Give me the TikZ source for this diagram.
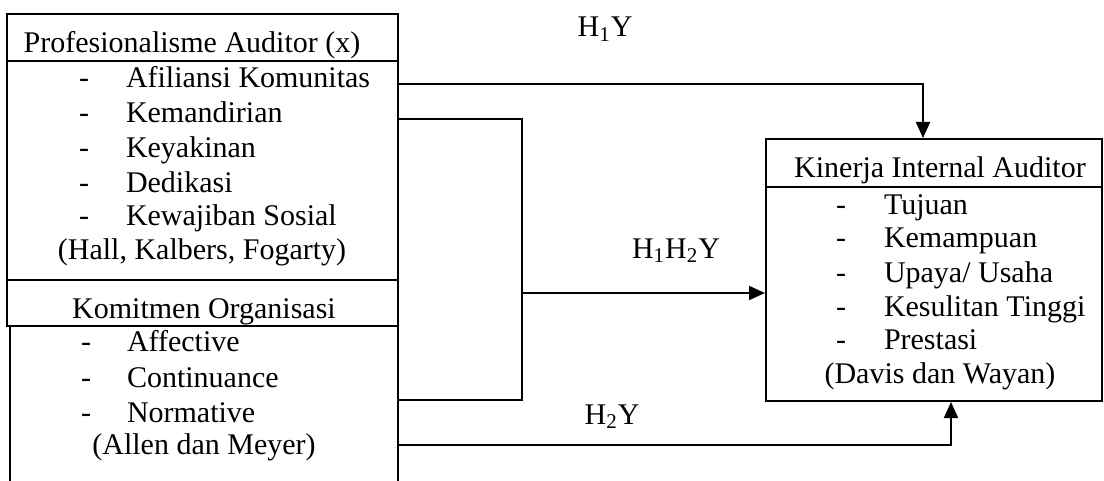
\documentclass[tikz,border=0pt]{standalone}
\usepackage{fontspec}
\setmainfont{Liberation Serif}
\usetikzlibrary{arrows.meta,fit}
\begin{document}
\begin{tikzpicture}[x=0.5pt,y=-0.5pt, line width=1pt,
  font=\fontsize{15}{17}\selectfont,
  box/.style={draw, inner sep=0pt, line width=1pt},
  txt/.style={inner sep=0pt, anchor=base west},
  ctr/.style={inner sep=0pt, anchor=base},
  arr/.style={-{Triangle[length=8pt,width=7pt]}}]
\useasboundingbox (0,0) rectangle (1104,481);
\clip (0,0) rectangle (1104,481);
% box corners
\coordinate (h1a) at (7,14);   \coordinate (h1b) at (398,61);
\coordinate (b1a) at (7,61);   \coordinate (b1b) at (398,280);
\coordinate (h2a) at (7,280);  \coordinate (h2b) at (398,326);
\coordinate (b2a) at (10,326); \coordinate (b2b) at (398,495);
\coordinate (h3a) at (766,139); \coordinate (h3b) at (1102,187);
\coordinate (b3a) at (766,187); \coordinate (b3b) at (1102,401);
\node[box, fit=(h1a)(h1b)] (h1) {};
\node[box, fit=(b1a)(b1b)] (b1) {};
\node[box, fit=(h2a)(h2b)] (h2) {};
\node[box, fit=(b2a)(b2b)] (b2) {};
\node[box, fit=(h3a)(h3b)] (h3) {};
\node[box, fit=(b3a)(b3b)] (b3) {};
% texts box 1
\node[ctr] (t1) at (192,53) {Profesionalisme Auditor (x)};
\foreach \y/\t [count=\i] in {88/{Afiliansi Komunitas},123/{Kemandirian},158/{Keyakinan},192/{Dedikasi},226/{Kewajiban Sosial}}{
  \node[txt] (d1\i) at (78,\y) {-};
  \node[txt] (i1\i) at (125,\y) {\t};
}
\node[ctr] (r1) at (202,259) {(Hall, Kalbers, Fogarty)};
% texts box 2
\node[ctr] (t2) at (204,318) {Komitmen Organisasi};
\foreach \y/\t [count=\i] in {351/{Affective},387/{Continuance},422/{Normative}}{
  \node[txt] (d2\i) at (80,\y) {-};
  \node[txt] (i2\i) at (126,\y) {\t};
}
\node[ctr] (r2) at (204,454) {(Allen dan Meyer)};
% texts box 3
\node[ctr] (t3) at (940,177) {Kinerja Internal Auditor};
\foreach \y/\t [count=\i] in {214/{Tujuan},248/{Kemampuan},282/{Upaya/ Usaha},316/{Kesulitan Tinggi},349/{Prestasi}}{
  \node[txt] (d3\i) at (835,\y) {-};
  \node[txt] (i3\i) at (883,\y) {\t};
}
\node[ctr] (r3) at (940,383) {(Davis dan Wayan)};
% labels
\node[ctr] (l1) at (605,37) {H\textsubscript{1}Y};
\node[ctr] (l2) at (676,258) {H\textsubscript{1}H\textsubscript{2}Y};
\node[ctr] (l3) at (612,424) {H\textsubscript{2}Y};
% connectors
\coordinate (c1) at (923,84);
\coordinate (c2) at (522,119);
\coordinate (c3) at (522,400);
\coordinate (c4) at (522,293);
\coordinate (c5) at (951,445);
\draw[arr] (b1.east |- c1) -- (c1) -- (c1 |- h3.north);
\draw (b1.east |- c2) -- (c2) -- (c3) -- (b2.east |- c3);
\draw[arr] (c4) -- (c4 -| b3.west);
\draw[arr] (b2.east |- c5) -- (c5) -- (c5 |- b3.south);
\end{tikzpicture}
\end{document}
